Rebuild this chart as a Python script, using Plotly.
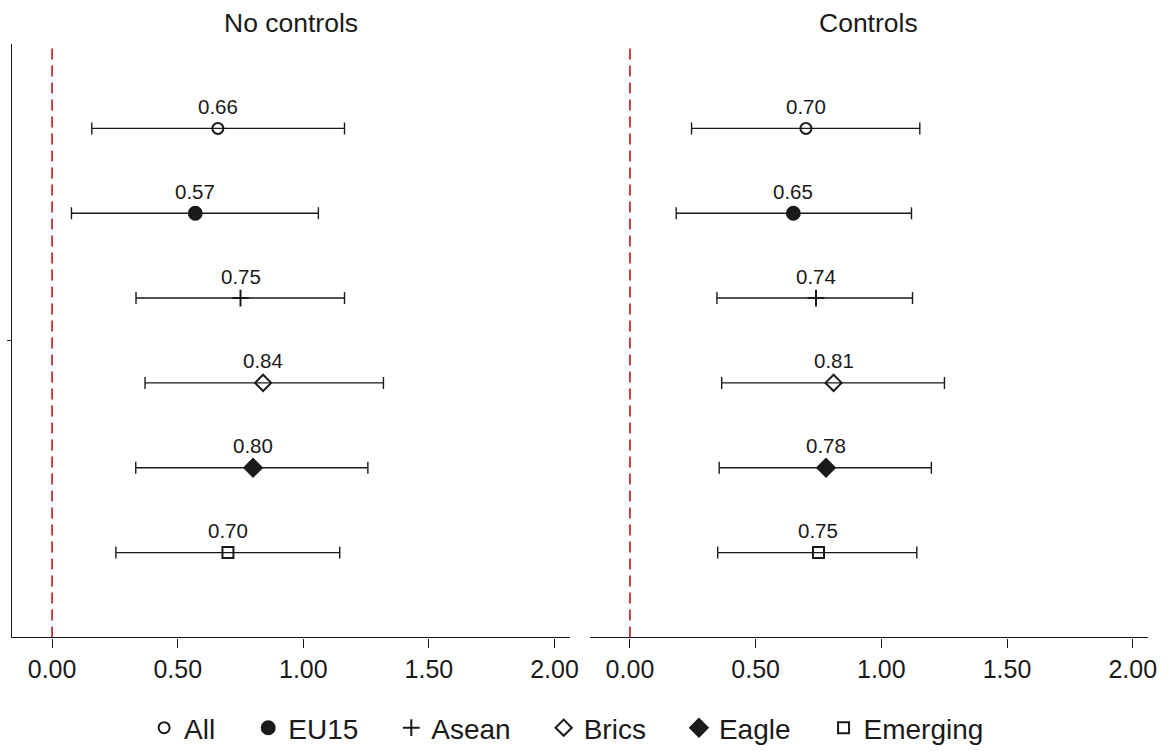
import plotly.graph_objects as go

# ---------------- data ----------------
groups = ["All", "EU15", "Asean", "Brics", "Eagle", "Emerging"]
rows = [6, 5, 4, 3, 2, 1]

panel_titles = ["No controls", "Controls"]

nc_est = [0.66, 0.57, 0.75, 0.84, 0.80, 0.70]
nc_lo = [0.158, 0.077, 0.334, 0.370, 0.333, 0.254]
nc_hi = [1.164, 1.060, 1.164, 1.319, 1.257, 1.145]

c_est = [0.70, 0.65, 0.74, 0.81, 0.78, 0.75]
c_lo = [0.245, 0.184, 0.346, 0.365, 0.355, 0.349]
c_hi = [1.153, 1.120, 1.124, 1.251, 1.199, 1.141]

tick_vals = [0.0, 0.5, 1.0, 1.5, 2.0]
tick_text = ["0.00", "0.50", "1.00", "1.50", "2.00"]
ref_line = 0.0

# ---------------- styles ----------------
symbols = ["circle-open", "circle", "cross-thin-open", "diamond-open", "diamond", "square-open"]
sizes = [11, 13, 12, 12.5, 13.5, 11]
FONT = "Liberation Sans, Arial, Helvetica, sans-serif"
INK = "#1a1a1a"
RED = "#c0141c"
PAD = "\u2002\u2002"

fig = go.Figure()

panels = [(nc_est, nc_lo, nc_hi, "x", "y"), (c_est, c_lo, c_hi, "x2", "y2")]
for p, (est, lo, hi, xa, ya) in enumerate(panels):
    for i, g in enumerate(groups):
        fig.add_trace(go.Scatter(
            x=[est[i]], y=[rows[i]],
            xaxis=xa, yaxis=ya,
            mode="markers",
            name=g + (PAD if i < len(groups) - 1 else ""),
            legendgroup=g,
            showlegend=(p == 0),
            marker=dict(symbol=symbols[i], size=sizes[i], color=INK,
                        line=dict(color=INK, width=2)),
            error_x=dict(type="data", symmetric=False,
                         array=[hi[i] - est[i]], arrayminus=[est[i] - lo[i]],
                         color=INK, thickness=1.4, width=6),
            hoverinfo="skip",
        ))
        fig.add_annotation(
            x=est[i], y=rows[i], xref=xa, yref=ya,
            text=f"{est[i]:.2f}", showarrow=False,
            yshift=22, font=dict(size=20.5, color=INK, family=FONT),
        )
    fig.add_shape(type="line", xref=xa, yref=ya,
                  x0=ref_line, x1=ref_line, y0=0, y1=7,
                  line=dict(color=RED, width=1.6, dash="11px,6px"), layer="below")

ydom = [1 - 644.3 / 753, 1 - 44 / 753]
axis_common = dict(range=[-0.16, 2.06], tickvals=tick_vals, ticktext=tick_text,
                   showline=True, linecolor=INK, linewidth=1.3, ticks="outside",
                   ticklen=9, tickwidth=1.3, tickcolor=INK, showgrid=False, zeroline=False,
                   tickfont=dict(size=25, color=INK, family=FONT), fixedrange=True)

fig.update_layout(
    width=1171, height=753,
    margin=dict(l=0, r=0, t=0, b=0),
    paper_bgcolor="white", plot_bgcolor="white",
    font=dict(family=FONT, color=INK),
    xaxis=dict(domain=[12 / 1171, 574 / 1171], anchor="y", **axis_common),
    xaxis2=dict(domain=[594.3 / 1171, 1156.7 / 1171], anchor="y2", **axis_common),
    yaxis=dict(domain=ydom, range=[0, 7], anchor="x", showline=True, linecolor=INK,
               linewidth=1.3, tickvals=[3.5], ticktext=[""], ticks="outside",
               ticklen=4, tickcolor=INK, showgrid=False, zeroline=False),
    yaxis2=dict(domain=ydom, range=[0, 7], anchor="x2", showline=False,
                showticklabels=False, showgrid=False, zeroline=False),
    showlegend=True,
    legend=dict(orientation="h", x=571 / 1171, xanchor="center", y=1 - 736 / 753,
                yanchor="middle", font=dict(size=28, color=INK, family=FONT),
                itemclick=False, itemdoubleclick=False),
)

# panel titles
for k, ax in enumerate(["x domain", "x2 domain"]):
    fig.add_annotation(x=0.5, y=1, xref=ax, yref="paper", yanchor="middle",
                       text=panel_titles[k], showarrow=False, yshift=-23,
                       font=dict(size=26.5, color=INK, family=FONT))

fig.write_html("out.html")
